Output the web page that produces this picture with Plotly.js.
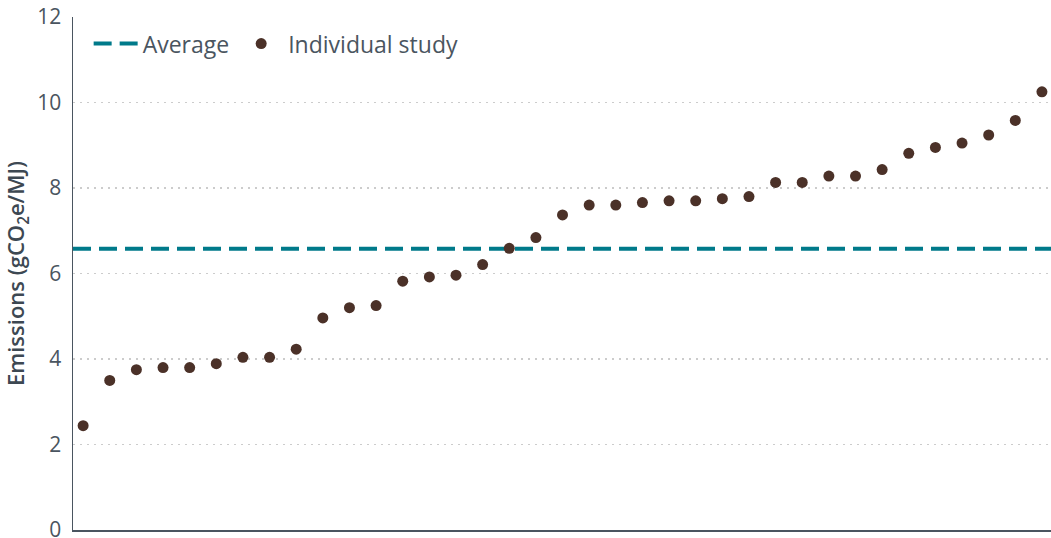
<!DOCTYPE html>
<html>
<head>
<meta charset="utf-8">
<script src="https://cdn.plot.ly/plotly-3.0.1.min.js"></script>
<style>html,body{margin:0;padding:0;background:#fff;}#chart{width:1051px;height:538px;}</style>
</head>
<body>
<div id="chart"></div>
<script>
const studyIndex = Array.from({length: 37}, (_, i) => i + 1);
const emissions = [2.44, 3.50, 3.75, 3.80, 3.80, 3.89, 4.04, 4.04, 4.23,
  4.96, 5.20, 5.25, 5.82, 5.92, 5.96, 6.21, 6.59, 6.84, 7.37,
  7.60, 7.60, 7.66, 7.70, 7.70, 7.75, 7.80, 8.13,
  8.13, 8.28, 8.28, 8.43, 8.81, 8.95, 9.05, 9.24, 9.58, 10.25];
const averageValue = 6.58;
const yTicks = [0, 2, 4, 6, 8, 10, 12];

const xRange = [0.62, 37.34];
const textColor = '#4a5560';
const fontFamily = '"Open Sans", Lato, sans-serif';

const traces = [
  {
    x: xRange, y: [averageValue, averageValue],
    type: 'scatter', mode: 'lines', name: 'Average',
    line: {color: '#007a8a', width: 4, dash: '18px,8px'},
    hoverinfo: 'skip'
  },
  {
    x: studyIndex, y: emissions,
    type: 'scatter', mode: 'markers', name: 'Individual study',
    marker: {color: '#4b3128', size: 11}
  }
];

const layout = {
  width: 1051, height: 538,
  margin: {l: 73, r: 0, t: 17, b: 8},
  paper_bgcolor: '#fff', plot_bgcolor: '#fff',
  font: {family: fontFamily, color: textColor, size: 21},
  showlegend: true,
  legend: {
    orientation: 'h', x: 0.016, y: 0.99, xanchor: 'left', yanchor: 'top',
    font: {size: 23, color: textColor}, bgcolor: 'rgba(0,0,0,0)',
    traceorder: 'normal', itemwidth: 44
  },
  xaxis: {
    range: xRange, showticklabels: false, showgrid: false, zeroline: false,
    showline: true, linecolor: '#4a5560', linewidth: 1.5, ticks: ''
  },
  yaxis: {
    range: [0, 12], tickvals: yTicks, ticktext: yTicks.map(String),
    showgrid: true, gridcolor: '#cccccc', griddash: '2px,5px', gridwidth: 1.3,
    zeroline: false, showline: true, linecolor: '#4a5560', linewidth: 1.5,
    ticks: 'outside', ticklen: 6, tickcolor: 'rgba(0,0,0,0)',
    ticklabeloverflow: 'allow',
    tickfont: {size: 21, color: textColor},
    title: {text: 'Emissions (gCO<sub>2</sub>e/MJ)', font: {size: 22, color: '#3d4852', weight: 600}, standoff: 12}
  }
};

Plotly.newPlot('chart', traces, layout, {displayModeBar: false, staticPlot: true});
</script>
</body>
</html>
